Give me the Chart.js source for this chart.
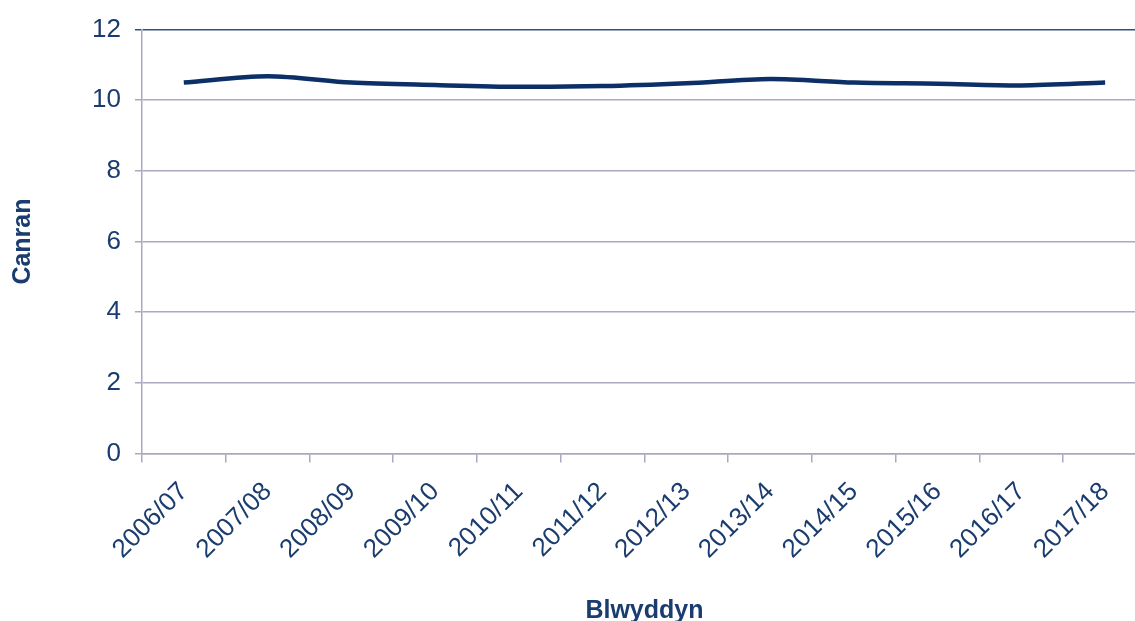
<!DOCTYPE html>
<html>
<head>
<meta charset="utf-8">
<script src="https://cdn.jsdelivr.net/npm/chart.js@4/dist/chart.umd.min.js"></script>
<style>
  html, body { margin: 0; padding: 0; background: #fff; overflow: hidden; }
  #wrap { width: 1160px; height: 626px; position: relative; }
</style>
</head>
<body>
<div id="wrap"><canvas id="canvas"></canvas></div>
<script>
// data
var years = ['2006/07', '2007/08', '2008/09', '2009/10', '2010/11', '2011/12',
             '2012/13', '2013/14', '2014/15', '2015/16', '2016/17', '2017/18'];
var canran = [10.5, 10.68, 10.5, 10.43, 10.38, 10.4, 10.48, 10.6, 10.5, 10.47, 10.42, 10.5];
var yTicks = [0, 2, 4, 6, 8, 10, 12];

var navy = '#0b2f66';
var textCol = '#1a3c6e';
var gridCol = '#a9a9bf';

new Chart('canvas', {
    type: 'line',
    data: {
        labels: years,
        datasets: [
            {
                data: canran,
                borderColor: navy,
                borderWidth: 4.5,
                pointRadius: 0,
                tension: 0.3,
                fill: false,
            },
        ],
    },
    options: {
        responsive: true,
        maintainAspectRatio: false,
        animation: false,
        layout: { padding: { left: 8, right: 13, top: 14, bottom: 0 } },
        plugins: {
            legend: { display: false },
            tooltip: { enabled: false },
        },
        scales: {
            x: {
                offset: true,
                grid: {
                    offset: true,
                    drawOnChartArea: false,
                    color: gridCol,
                    tickLength: 9,
                    lineWidth: 1.5,
                },
                border: { color: gridCol, width: 1.5 },
                ticks: {
                    color: textCol,
                    font: { family: 'Liberation Sans, Arial', size: 26 },
                    maxRotation: 45,
                    minRotation: 45,
                    padding: 14,
                },
                title: {
                    display: true,
                    text: 'Blwyddyn',
                    color: textCol,
                    font: { family: 'Liberation Sans, Arial', size: 25, weight: 'bold' },
                    padding: { top: 17, bottom: 0 },
                },
            },
            y: {
                min: 0,
                max: 12,
                afterBuildTicks: function (axis) {
                    axis.ticks = yTicks.map(function (v) { return { value: v }; });
                },
                grid: {
                    color: function (ctx) {
                        return ctx.tick && ctx.tick.value === 12 ? '#34507e' : gridCol;
                    },
                    lineWidth: 1.5,
                    tickLength: 7,
                },
                border: { color: gridCol, width: 1.5 },
                ticks: {
                    color: textCol,
                    font: { family: 'Liberation Sans, Arial', size: 26 },
                    padding: 14,
                },
                title: {
                    display: true,
                    text: 'Canran',
                    color: textCol,
                    font: { family: 'Liberation Sans, Arial', size: 25, weight: 'bold' },
                    padding: { top: 0, bottom: 40 },
                },
            },
        },
    },
});
</script>
</body>
</html>
